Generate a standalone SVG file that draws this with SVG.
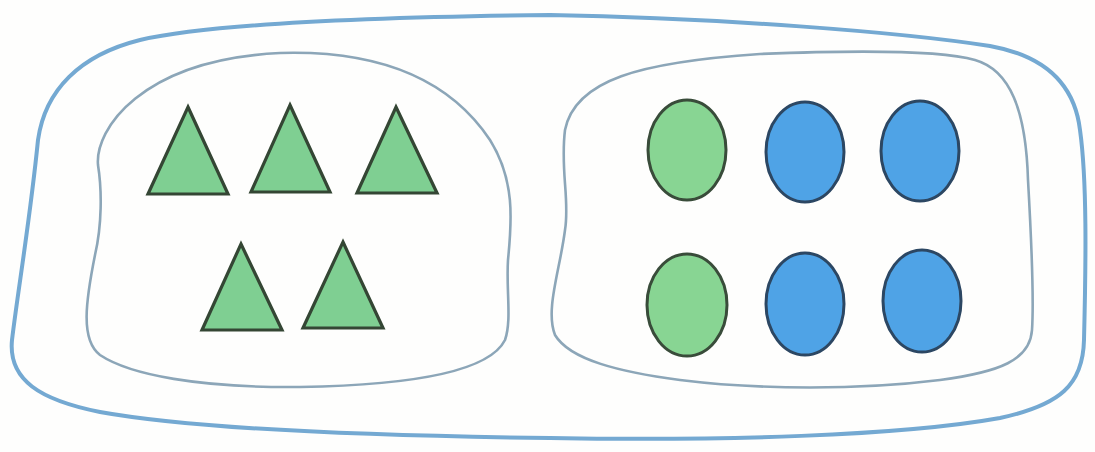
<svg xmlns="http://www.w3.org/2000/svg" width="1095" height="452" viewBox="0 0 1095 452">
<style>
.outer{fill:none;stroke:#74a9d2;stroke-width:4;stroke-linejoin:round}
.inner{fill:none;stroke:#8ca6b8;stroke-width:2.6;stroke-linejoin:round}
.tri{fill:#7fcf92;stroke:#344634;stroke-width:3.2;stroke-linejoin:miter}
.gc{fill:#88d593;stroke:#394c3a;stroke-width:3}
.bc{fill:#4fa3e6;stroke:#2c4763;stroke-width:3}
</style>
<rect width="1095" height="452" fill="#fefefd"/>
<g id="outer-set">
<path class="outer" d="M 550 15 C 380 17, 210 24, 140 40 C 80 55, 45 90, 38 140 C 30 220, 18 290, 12 340 C 8 380, 40 400, 100 412 C 200 430, 380 436, 550 438 C 720 441, 900 436, 1000 418 C 1060 405, 1083 385, 1084 340 C 1086 260, 1087 180, 1080 130 C 1074 80, 1040 55, 990 46 C 900 32, 720 18, 550 15 Z"/>
</g>
<g id="left-set">
<path class="inner" d="M 98 165 C 95 130, 140 60, 280 53 C 380 50, 450 80, 490 140 C 515 180, 512 220, 508 260 C 506 290, 512 320, 505 340 C 490 370, 420 385, 300 387 C 200 388, 130 375, 100 355 C 80 340, 86 300, 95 255 C 102 225, 102 190, 98 165 Z"/>
<polygon class="tri" points="188,107 228,194 148,194"/>
<polygon class="tri" points="290,105 330,192 251,192"/>
<polygon class="tri" points="396,107 437,193 357,193"/>
<polygon class="tri" points="241,244 282,330 202,330"/>
<polygon class="tri" points="343,242 383,328 303,328"/>
</g>
<g id="right-set">
<path class="inner" d="M 565 130 C 575 80, 640 62, 760 54 C 860 50, 940 50, 975 60 C 1010 70, 1026 110, 1028 180 C 1032 250, 1034 300, 1032 330 C 1030 360, 1000 372, 940 380 C 860 390, 760 390, 680 380 C 620 372, 570 360, 555 335 C 545 310, 560 270, 565 230 C 570 200, 560 170, 565 130 Z"/>
<ellipse class="gc" cx="687" cy="150" rx="39" ry="50"/>
<ellipse class="bc" cx="805" cy="152" rx="39" ry="50"/>
<ellipse class="bc" cx="920" cy="151" rx="39" ry="50"/>
<ellipse class="gc" cx="687" cy="305" rx="40" ry="51"/>
<ellipse class="bc" cx="805" cy="304" rx="39" ry="51"/>
<ellipse class="bc" cx="922" cy="301" rx="39" ry="51"/>
</g>
</svg>
